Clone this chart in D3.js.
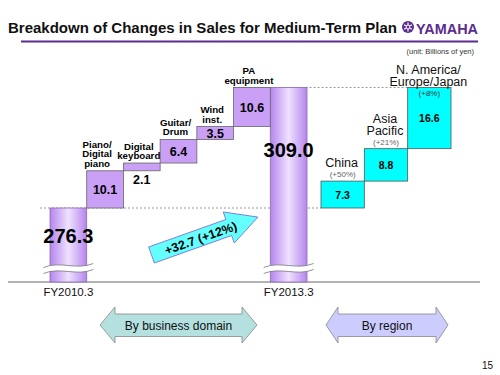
<!DOCTYPE html>
<html>
<head>
<meta charset="utf-8">
<script src="https://cdn.jsdelivr.net/npm/d3@7"></script>
<style>
  body { margin: 0; background: #fff; }
  svg { font-family: "Liberation Sans", Arial, sans-serif; }
</style>
</head>
<body>
<svg id="chart" width="500" height="375"></svg>
<script>
// values in billions of yen
const years = ["FY2010.3", "FY2013.3"];
const totals = [276.3, 309.0];
const domains = ["Piano/\nDigital\npiano", "Digital\nkeyboard", "Guitar/\nDrum", "Wind\ninst.", "PA\nequipment"];
const domainValues = [10.1, 2.1, 6.4, 3.5, 10.6];
const regions = ["China", "Asia\nPacific", "N. America/\nEurope/Japan"];
const regionValues = [7.3, 8.8, 16.6];
const regionGrowth = ["(+50%)", "(+21%)", "(+8%)"];
const changeLabel = "+32.7 (+12%)";

const svg = d3.select('#chart');
const purple = '#c9a0f5';
const cyan = '#00ffff';

// title + logo
svg.append('text').attr('x', 8).attr('y', 33)
  .attr('font-size', 15.5).attr('font-weight', 'bold').attr('fill', '#111')
  .attr('textLength', 389).attr('lengthAdjust', 'spacingAndGlyphs')
  .text('Breakdown of Changes in Sales for Medium-Term Plan');
svg.append('line').attr('x1', 21).attr('x2', 478).attr('y1', 41.5).attr('y2', 41.5)
  .attr('stroke', '#5b2d8e').attr('stroke-width', 2);
const logo = svg.append('g').attr('transform', 'translate(408,27)');
logo.append('circle').attr('r', 6).attr('fill', '#5b2d8e');
d3.range(3).forEach(i => {
  logo.append('line').attr('x1', 0).attr('y1', -4.5).attr('x2', 0).attr('y2', 4.5)
    .attr('stroke', '#fff').attr('stroke-width', 1.2)
    .attr('transform', `rotate(${i * 60})`);
});
logo.append('circle').attr('r', 1.8).attr('fill', '#5b2d8e').attr('stroke', '#fff').attr('stroke-width', 0.8);
svg.append('text').attr('x', 416).attr('y', 33.5)
  .attr('font-size', 14.5).attr('font-weight', 'bold').attr('fill', '#5b2d8e')
  .attr('textLength', 62).attr('lengthAdjust', 'spacingAndGlyphs')
  .text('YAMAHA');
svg.append('text').attr('x', 474).attr('y', 54).attr('text-anchor', 'end')
  .attr('font-size', 7.5).attr('fill', '#333').text('(unit: Billions of yen)');

// scales
const baseY = 282;
const y = d3.scaleLinear().domain([totals[0], totals[1]]).range([208, 87.5]);
const x = d3.scaleBand().domain([years[0], ...domains, years[1]]).range([50, 307]).padding(0);
const xr = d3.scaleBand().domain(regions).range([321, 451]).padding(0);

// gradient for total bars
const defs = svg.append('defs');
const grad = defs.append('linearGradient').attr('id', 'barGrad').attr('x1', 0).attr('x2', 1).attr('y1', 0).attr('y2', 0);
grad.append('stop').attr('offset', '0%').attr('stop-color', '#b585ee');
grad.append('stop').attr('offset', '50%').attr('stop-color', '#efe2ff');
grad.append('stop').attr('offset', '100%').attr('stop-color', '#b585ee');

// dashed guide lines
svg.append('line').attr('x1', 40).attr('x2', xr(regions[0])).attr('y1', y(totals[0])).attr('y2', y(totals[0]))
  .attr('stroke', '#999').attr('stroke-dasharray', '2,2');
svg.append('line').attr('x1', x(domains[4])).attr('x2', xr(regions[2])).attr('y1', y(totals[1])).attr('y2', y(totals[1]))
  .attr('stroke', '#999').attr('stroke-dasharray', '2,2');

// axis baseline
svg.append('line').attr('x1', 8).attr('x2', 480).attr('y1', baseY).attr('y2', baseY)
  .attr('stroke', '#999').attr('stroke-width', 1.5);

// total bars
svg.selectAll('.total').data(years).join('rect')
  .attr('class', 'total')
  .attr('x', d => x(d)).attr('width', x.bandwidth())
  .attr('y', (d, i) => y(totals[i])).attr('height', (d, i) => baseY - y(totals[i]))
  .attr('fill', 'url(#barGrad)').attr('stroke', '#8a6cb0').attr('stroke-width', 0.8);

// axis break marks
years.forEach(d => {
  const cx = x(d) + x.bandwidth() / 2;
  const x0 = cx - 25, x1 = cx + 25;
  const wave = (yy) => `M${x0},${yy + 2} C${cx - 8},${yy - 5} ${cx + 8},${yy + 5} ${x1},${yy - 2}`;
  const top = 265.5, bot = 271.5;
  svg.append('path')
    .attr('d', `${wave(top)} L${x1},${bot - 2} C${cx + 8},${bot + 5} ${cx - 8},${bot - 5} ${x0},${bot + 2} Z`)
    .attr('fill', '#fff').attr('stroke', 'none');
  svg.append('path').attr('d', wave(top)).attr('fill', 'none').attr('stroke', '#777').attr('stroke-width', 0.8);
  svg.append('path').attr('d', wave(bot)).attr('fill', 'none').attr('stroke', '#777').attr('stroke-width', 0.8);
});

// total labels
svg.append('text').attr('x', x(years[0]) + x.bandwidth() / 2).attr('y', 243)
  .attr('text-anchor', 'middle').attr('font-size', 20).attr('font-weight', 'bold').text(totals[0].toFixed(1));
svg.append('text').attr('x', x(years[1]) + x.bandwidth() / 2).attr('y', 157)
  .attr('text-anchor', 'middle').attr('font-size', 20).attr('font-weight', 'bold').text(totals[1].toFixed(1));

svg.selectAll('.year').data(years).join('text')
  .attr('class', 'year')
  .attr('x', d => x(d) + x.bandwidth() / 2).attr('y', 296)
  .attr('text-anchor', 'middle').attr('font-size', 11.5).attr('fill', '#111').text(d => d);

// business domain steps
let cum = totals[0];
const steps = domains.map((d, i) => {
  const s = { name: d, value: domainValues[i], start: cum, end: cum + domainValues[i] };
  cum = s.end;
  return s;
});
svg.selectAll('.step').data(steps).join('rect')
  .attr('class', 'step')
  .attr('x', d => x(d.name)).attr('width', x.bandwidth())
  .attr('y', d => y(d.end)).attr('height', d => y(d.start) - y(d.end))
  .attr('fill', purple).attr('stroke', '#666').attr('stroke-width', 0.8);

steps.forEach((d, k) => {
  const cx = x(d.name) + x.bandwidth() / 2;
  const h = y(d.start) - y(d.end);
  const vy = h > 12 ? (y(d.start) + y(d.end)) / 2 + 4.5 : y(d.start) + 13;
  svg.append('text').attr('x', cx).attr('y', vy).attr('text-anchor', 'middle')
    .attr('font-size', 12.5).attr('font-weight', 'bold').text(d.value.toFixed(1));
  const lines = d.name.split('\n');
  const lx = k === 0 ? cx - 8 : cx - 3;
  svg.append('text').attr('x', lx).attr('y', y(d.end) - 4)
    .attr('text-anchor', 'middle').attr('font-size', 9.7).attr('font-weight', 'bold')
    .selectAll('tspan').data(lines).join('tspan')
    .attr('x', lx).attr('dy', (l, i) => i === 0 ? -(lines.length - 1) * 9.5 : 9.5)
    .text(l => l);
});

// arrow showing total change
const arrow = svg.append('g').attr('transform', 'translate(151.5,255) rotate(-19.6)');
const L = 113, sw = 8.5, hw = 16.5, hl = 31;
arrow.append('path')
  .attr('d', `M0,${-sw} L${L - hl},${-sw} L${L - hl},${-hw} L${L},0 L${L - hl},${hw} L${L - hl},${sw} L0,${sw} Z`)
  .attr('fill', '#66ffff').attr('stroke', '#7a6fd0').attr('stroke-width', 0.8);
arrow.append('text').attr('x', 52).attr('y', 5).attr('text-anchor', 'middle')
  .attr('font-size', 12.5).attr('font-weight', 'bold').text(changeLabel);

// region steps
let rc = totals[0];
const rsteps = regions.map((d, i) => {
  const s = { name: d, value: regionValues[i], growth: regionGrowth[i], start: rc, end: rc + regionValues[i] };
  rc = s.end;
  return s;
});
svg.selectAll('.rstep').data(rsteps).join('rect')
  .attr('class', 'rstep')
  .attr('x', d => xr(d.name)).attr('width', xr.bandwidth())
  .attr('y', d => y(d.end)).attr('height', d => y(d.start) - y(d.end))
  .attr('fill', cyan).attr('stroke', '#555').attr('stroke-width', 0.8);

rsteps.forEach(d => {
  const cx = xr(d.name) + xr.bandwidth() / 2;
  svg.append('text').attr('x', cx).attr('y', (y(d.start) + y(d.end)) / 2 + 4)
    .attr('text-anchor', 'middle').attr('font-size', 10.5).attr('font-weight', 'bold').text(d.value.toFixed(1));
  const base = Math.max(y(d.end) - 4, 96);
  svg.append('text').attr('x', cx).attr('y', base).attr('text-anchor', 'middle')
    .attr('font-size', 8).attr('fill', base > y(d.end) ? '#333' : '#666').text(d.growth);
  const lines = d.name.split('\n');
  svg.append('text').attr('x', cx - 1).attr('y', base - 10)
    .attr('text-anchor', 'middle').attr('font-size', 12.5).attr('fill', '#111')
    .selectAll('tspan').data(lines).join('tspan')
    .attr('x', cx - 1).attr('dy', (l, i) => i === 0 ? -(lines.length - 1) * 12 : 12)
    .text(l => l);
});

// bottom double arrows
function dblArrow(x0, x1, hb0, hb1, fill, label) {
  const t = 307, b = 343, bt = 314, bb = 336.5, m = (t + b) / 2;
  svg.append('path')
    .attr('d', `M${x0},${m} L${hb0},${t} L${hb0},${bt} L${hb1},${bt} L${hb1},${t} L${x1},${m} L${hb1},${b} L${hb1},${bb} L${hb0},${bb} L${hb0},${b} Z`)
    .attr('fill', fill).attr('stroke', '#888').attr('stroke-width', 0.8);
  svg.append('text').attr('x', (x0 + x1) / 2).attr('y', m + 4.5).attr('text-anchor', 'middle')
    .attr('font-size', 12).attr('fill', '#111').text(label);
}
dblArrow(100, 257, 115, 242, '#b4e0e0', 'By business domain');
dblArrow(326, 448, 338, 436, '#ccccff', 'By region');

svg.append('text').attr('x', 493).attr('y', 369).attr('text-anchor', 'end')
  .attr('font-size', 10).attr('fill', '#111').text('15');
</script>
</body>
</html>
